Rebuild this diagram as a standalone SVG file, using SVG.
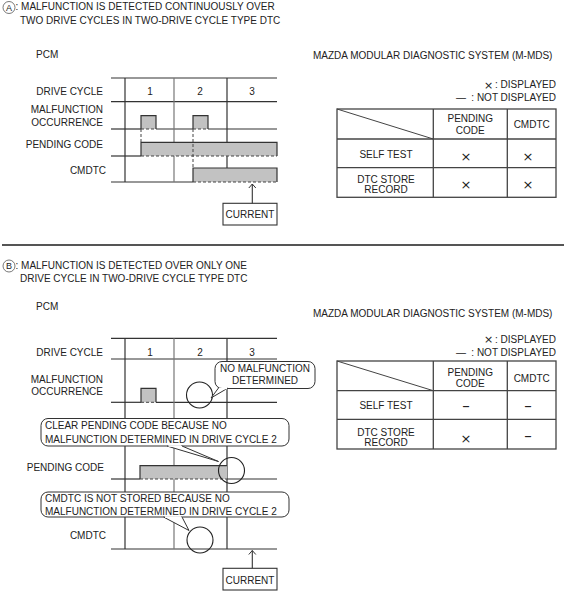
<svg xmlns="http://www.w3.org/2000/svg" width="566" height="594" viewBox="0 0 566 594">
<defs>
<style>
text{font-family:"Liberation Sans",Arial,sans-serif;font-size:10px;fill:#222}
.e{text-anchor:end}
.m{text-anchor:middle}
.ln{stroke:#333;stroke-width:1.2;fill:none}
.lg{stroke:#777;stroke-width:1.2;fill:none}
.ds{stroke:#444;stroke-width:1;fill:none;stroke-dasharray:3 2}
.bar{fill:#c2c2c2;stroke:none}
.tb{stroke:#444;stroke-width:1.3;fill:none}
.co{fill:#fff;stroke:#333;stroke-width:1}
.ci{fill:none;stroke:#222;stroke-width:1.1}
.sym{font-family:"DejaVu Sans",sans-serif;font-size:13px}
.dsh{font-family:"DejaVu Sans",sans-serif;font-size:15px}
.lsym{font-family:"DejaVu Sans",sans-serif;font-size:11px}
.ah{fill:none;stroke:#333;stroke-width:1}
</style>
</defs>
<rect width="566" height="594" fill="#fff"/>

<!-- ===== Section A ===== -->
<g id="titleA">
<circle cx="9" cy="7.5" r="6" fill="none" stroke="#555" stroke-width="0.8"/>
<text x="9" y="10.7" class="m" style="font-size:9px">A</text>
<text x="15.5" y="10">: MALFUNCTION IS DETECTED CONTINUOUSLY OVER</text>
<text x="20" y="23.5">TWO DRIVE CYCLES IN TWO-DRIVE CYCLE TYPE DTC</text>
</g>
<text x="36" y="58">PCM</text>

<g id="chartA">
<g id="gridA">
<line class="ln" x1="111" y1="78" x2="277" y2="78"/>
<line class="ln" x1="111" y1="101.7" x2="277" y2="101.7"/>
<line class="ln" x1="111" y1="129" x2="141" y2="129"/>
<line class="ln" x1="156" y1="129" x2="193" y2="129"/>
<line class="ln" x1="208" y1="129" x2="277" y2="129"/>
<line class="ln" x1="111" y1="156" x2="141" y2="156"/>
<line class="ln" x1="111" y1="182" x2="193" y2="182"/>
<line class="ln" x1="125" y1="78" x2="125" y2="182"/>
<line class="lg" x1="174" y1="78" x2="174" y2="182"/>
<line class="ln" x1="227" y1="78" x2="227" y2="168"/>
</g>
<g id="labelsA">
<text x="103" y="94.5" class="e">DRIVE CYCLE</text>
<text x="150" y="94.5" class="m">1</text>
<text x="200" y="94.5" class="m">2</text>
<text x="252" y="94.5" class="m">3</text>
<text x="103" y="113" class="e">MALFUNCTION</text>
<text x="103" y="125.5" class="e">OCCURRENCE</text>
<text x="103" y="147.5" class="e">PENDING CODE</text>
<text x="106" y="173.5" class="e">CMDTC</text>
</g>
<g id="malfA1">
<rect class="bar" x="141" y="115.7" width="15" height="13.3"/>
<path class="ln" d="M141 129 V115.7 H156 V129"/>
<line class="ds" x1="141" y1="129" x2="156" y2="129"/>
</g>
<g id="malfA2">
<rect class="bar" x="193" y="115.7" width="15" height="13.3"/>
<path class="ln" d="M193 129 V115.7 H208 V129"/>
<line class="ds" x1="193" y1="129" x2="208" y2="129"/>
</g>
<g id="pendingA">
<rect class="bar" x="141" y="142.3" width="136" height="13.7"/>
<path class="ln" d="M141 156 V142.3 H277 V156"/>
<line class="ds" x1="141" y1="156" x2="277" y2="156"/>
</g>
<g id="cmdtcA">
<rect class="bar" x="193" y="168" width="84" height="14"/>
<path class="ln" d="M193 182 V168 H277 V182"/>
<line class="ds" x1="193" y1="182" x2="277" y2="182"/>
</g>
<g id="dashA">
<line class="ds" x1="141" y1="129" x2="141" y2="142.3"/>
<line class="ds" x1="193" y1="129" x2="193" y2="168"/>
</g>
</g>

<g id="currentA">
<rect x="223" y="203.3" width="54" height="21.7" fill="#fff" stroke="#333" stroke-width="1.1"/>
<text x="250" y="217.5" class="m">CURRENT</text>
</g>

<g id="mdsA">
<text x="313" y="59">MAZDA MODULAR DIAGNOSTIC SYSTEM (M-MDS)</text>
<text x="556" y="88.3" class="e">: DISPLAYED</text>
<text x="488.5" y="88.5" class="m lsym">×</text>
<text x="556" y="101" class="e">: NOT DISPLAYED</text>
<text x="461" y="101" class="m">—</text>
</g>
<g id="tableA">
<rect class="tb" x="337" y="109" width="219" height="88.3"/>
<line class="tb" x1="337" y1="139" x2="556" y2="139"/>
<line class="tb" x1="337" y1="167.7" x2="556" y2="167.7"/>
<line class="tb" x1="433.3" y1="109" x2="433.3" y2="197.3"/>
<line class="tb" x1="507.3" y1="109" x2="507.3" y2="197.3"/>
<line stroke="#444" stroke-width="1" x1="337" y1="109" x2="433.3" y2="139"/>
<text x="470.3" y="121.5" class="m">PENDING</text>
<text x="470.3" y="133.5" class="m">CODE</text>
<text x="531.7" y="127.5" class="m">CMDTC</text>
<text x="386" y="158.3" class="m">SELF TEST</text>
<text x="386" y="182.5" class="m">DTC STORE</text>
<text x="386" y="192.7" class="m">RECORD</text>
<text x="466" y="161" class="m sym">×</text>
<text x="528" y="161" class="m sym">×</text>
<text x="466" y="188.5" class="m sym">×</text>
<text x="528" y="188.5" class="m sym">×</text>
</g>

<line id="divider" x1="2" y1="245" x2="564" y2="245" stroke="#555" stroke-width="2"/>

<!-- ===== Section B ===== -->
<g id="titleB">
<circle cx="9" cy="266" r="6" fill="none" stroke="#555" stroke-width="0.8"/>
<text x="9" y="269.2" class="m" style="font-size:9px">B</text>
<text x="15.5" y="268.5">: MALFUNCTION IS DETECTED OVER ONLY ONE</text>
<text x="20" y="281.7">DRIVE CYCLE IN TWO-DRIVE CYCLE TYPE DTC</text>
</g>
<text x="36" y="310">PCM</text>

<g id="chartB">
<g id="gridB">
<line class="ln" x1="111" y1="338.3" x2="277" y2="338.3"/>
<line class="ln" x1="111" y1="359" x2="277" y2="359"/>
<line class="ln" x1="111" y1="402.3" x2="141" y2="402.3"/>
<line class="ln" x1="156" y1="402.3" x2="277" y2="402.3"/>
<line class="ln" x1="111" y1="479" x2="140" y2="479"/>
<line class="ln" x1="227" y1="479" x2="277" y2="479"/>
<line class="ln" x1="111" y1="549" x2="277" y2="549"/>
<line class="ln" x1="125" y1="338.3" x2="125" y2="549"/>
<line class="lg" x1="174" y1="338.3" x2="174" y2="549"/>
<line class="ln" x1="227" y1="338.3" x2="227" y2="549"/>
</g>
<g id="labelsB">
<text x="103" y="355.5" class="e">DRIVE CYCLE</text>
<text x="150" y="355.5" class="m">1</text>
<text x="200" y="355.5" class="m">2</text>
<text x="252" y="355.5" class="m">3</text>
<text x="103" y="382.5" class="e">MALFUNCTION</text>
<text x="103" y="395" class="e">OCCURRENCE</text>
<text x="104" y="470.7" class="e">PENDING CODE</text>
<text x="106" y="539.3" class="e">CMDTC</text>
</g>
<g id="malfB1">
<rect class="bar" x="141" y="388.3" width="15" height="14"/>
<path class="ln" d="M141 402.3 V388.3 H156 V402.3"/>
<line class="ds" x1="141" y1="402.3" x2="156" y2="402.3"/>
</g>
<g id="pendingB">
<rect class="bar" x="140" y="465.7" width="87" height="13.3"/>
<path class="ln" d="M140 479 V465.7 H227"/>
<line class="ds" x1="140" y1="479" x2="227" y2="479"/>
</g>
<g id="circlesB">
<circle class="ci" cx="199.5" cy="395" r="13"/>
<circle class="ci" cx="231.5" cy="470.5" r="13"/>
<circle class="ci" cx="200" cy="540" r="13"/>
</g>
</g>

<g id="callouts">
<g id="calloutNoMal">
<rect class="co" x="215" y="361.5" width="100" height="27" rx="7"/>
<path class="co" d="M218.5 388 L211 398 L228 388"/>
<line x1="219.5" y1="388.5" x2="227" y2="388.5" stroke="#fff" stroke-width="1.6"/>
<text x="265" y="372" class="m">NO MALFUNCTION</text>
<text x="265" y="383.5" class="m">DETERMINED</text>
</g>
<g id="calloutClear">
<rect class="co" x="41" y="418.5" width="248" height="27.5" rx="7"/>
<path class="co" d="M167 446 L218.5 461.5 L182 446"/>
<line x1="168.5" y1="446" x2="181" y2="446" stroke="#fff" stroke-width="1.6"/>
<text x="45" y="428.5">CLEAR PENDING CODE BECAUSE NO</text>
<text x="45" y="442.5">MALFUNCTION DETERMINED IN DRIVE CYCLE 2</text>
</g>
<g id="calloutCmdtc">
<rect class="co" x="41" y="492" width="248" height="25" rx="7"/>
<path class="co" d="M163.5 517 L189 530.5 L182 517"/>
<line x1="165" y1="517" x2="181" y2="517" stroke="#fff" stroke-width="1.6"/>
<text x="45" y="502.3">CMDTC IS NOT STORED BECAUSE NO</text>
<text x="45" y="515">MALFUNCTION DETERMINED IN DRIVE CYCLE 2</text>
</g>
</g>

<g id="currentB">
<rect x="223" y="568.3" width="54" height="21.7" fill="#fff" stroke="#333" stroke-width="1.1"/>
<text x="250" y="583.5" class="m">CURRENT</text>
</g>

<g id="mdsB">
<text x="313" y="317">MAZDA MODULAR DIAGNOSTIC SYSTEM (M-MDS)</text>
<text x="556" y="342.5" class="e">: DISPLAYED</text>
<text x="488.5" y="342.7" class="m lsym">×</text>
<text x="556" y="355.5" class="e">: NOT DISPLAYED</text>
<text x="461" y="355.5" class="m">—</text>
</g>
<g id="tableB">
<rect class="tb" x="337" y="361" width="219" height="88"/>
<line class="tb" x1="337" y1="390.7" x2="556" y2="390.7"/>
<line class="tb" x1="337" y1="419.3" x2="556" y2="419.3"/>
<line class="tb" x1="433.3" y1="361" x2="433.3" y2="449"/>
<line class="tb" x1="507.3" y1="361" x2="507.3" y2="449"/>
<line stroke="#444" stroke-width="1" x1="337" y1="361" x2="433.3" y2="390.7"/>
<text x="470.3" y="376" class="m">PENDING</text>
<text x="470.3" y="386.7" class="m">CODE</text>
<text x="531.7" y="381.5" class="m">CMDTC</text>
<text x="386" y="409.3" class="m">SELF TEST</text>
<text x="386" y="436" class="m">DTC STORE</text>
<text x="386" y="446" class="m">RECORD</text>
<text x="466" y="411" class="m dsh">–</text>
<text x="528" y="411" class="m dsh">–</text>
<text x="466" y="442.5" class="m sym">×</text>
<text x="528" y="440.5" class="m dsh">–</text>
</g>

<g id="connectors">
<line x1="252.3" y1="184" x2="252.3" y2="203.3" stroke="#333" stroke-width="1.1"/>
<path class="ah" d="M248.8 188 L252.3 184 L255.8 188"/>
<line x1="252.3" y1="550.5" x2="252.3" y2="568.3" stroke="#333" stroke-width="1.1"/>
<path class="ah" d="M248.8 554.5 L252.3 550.5 L255.8 554.5"/>
</g>
</svg>
